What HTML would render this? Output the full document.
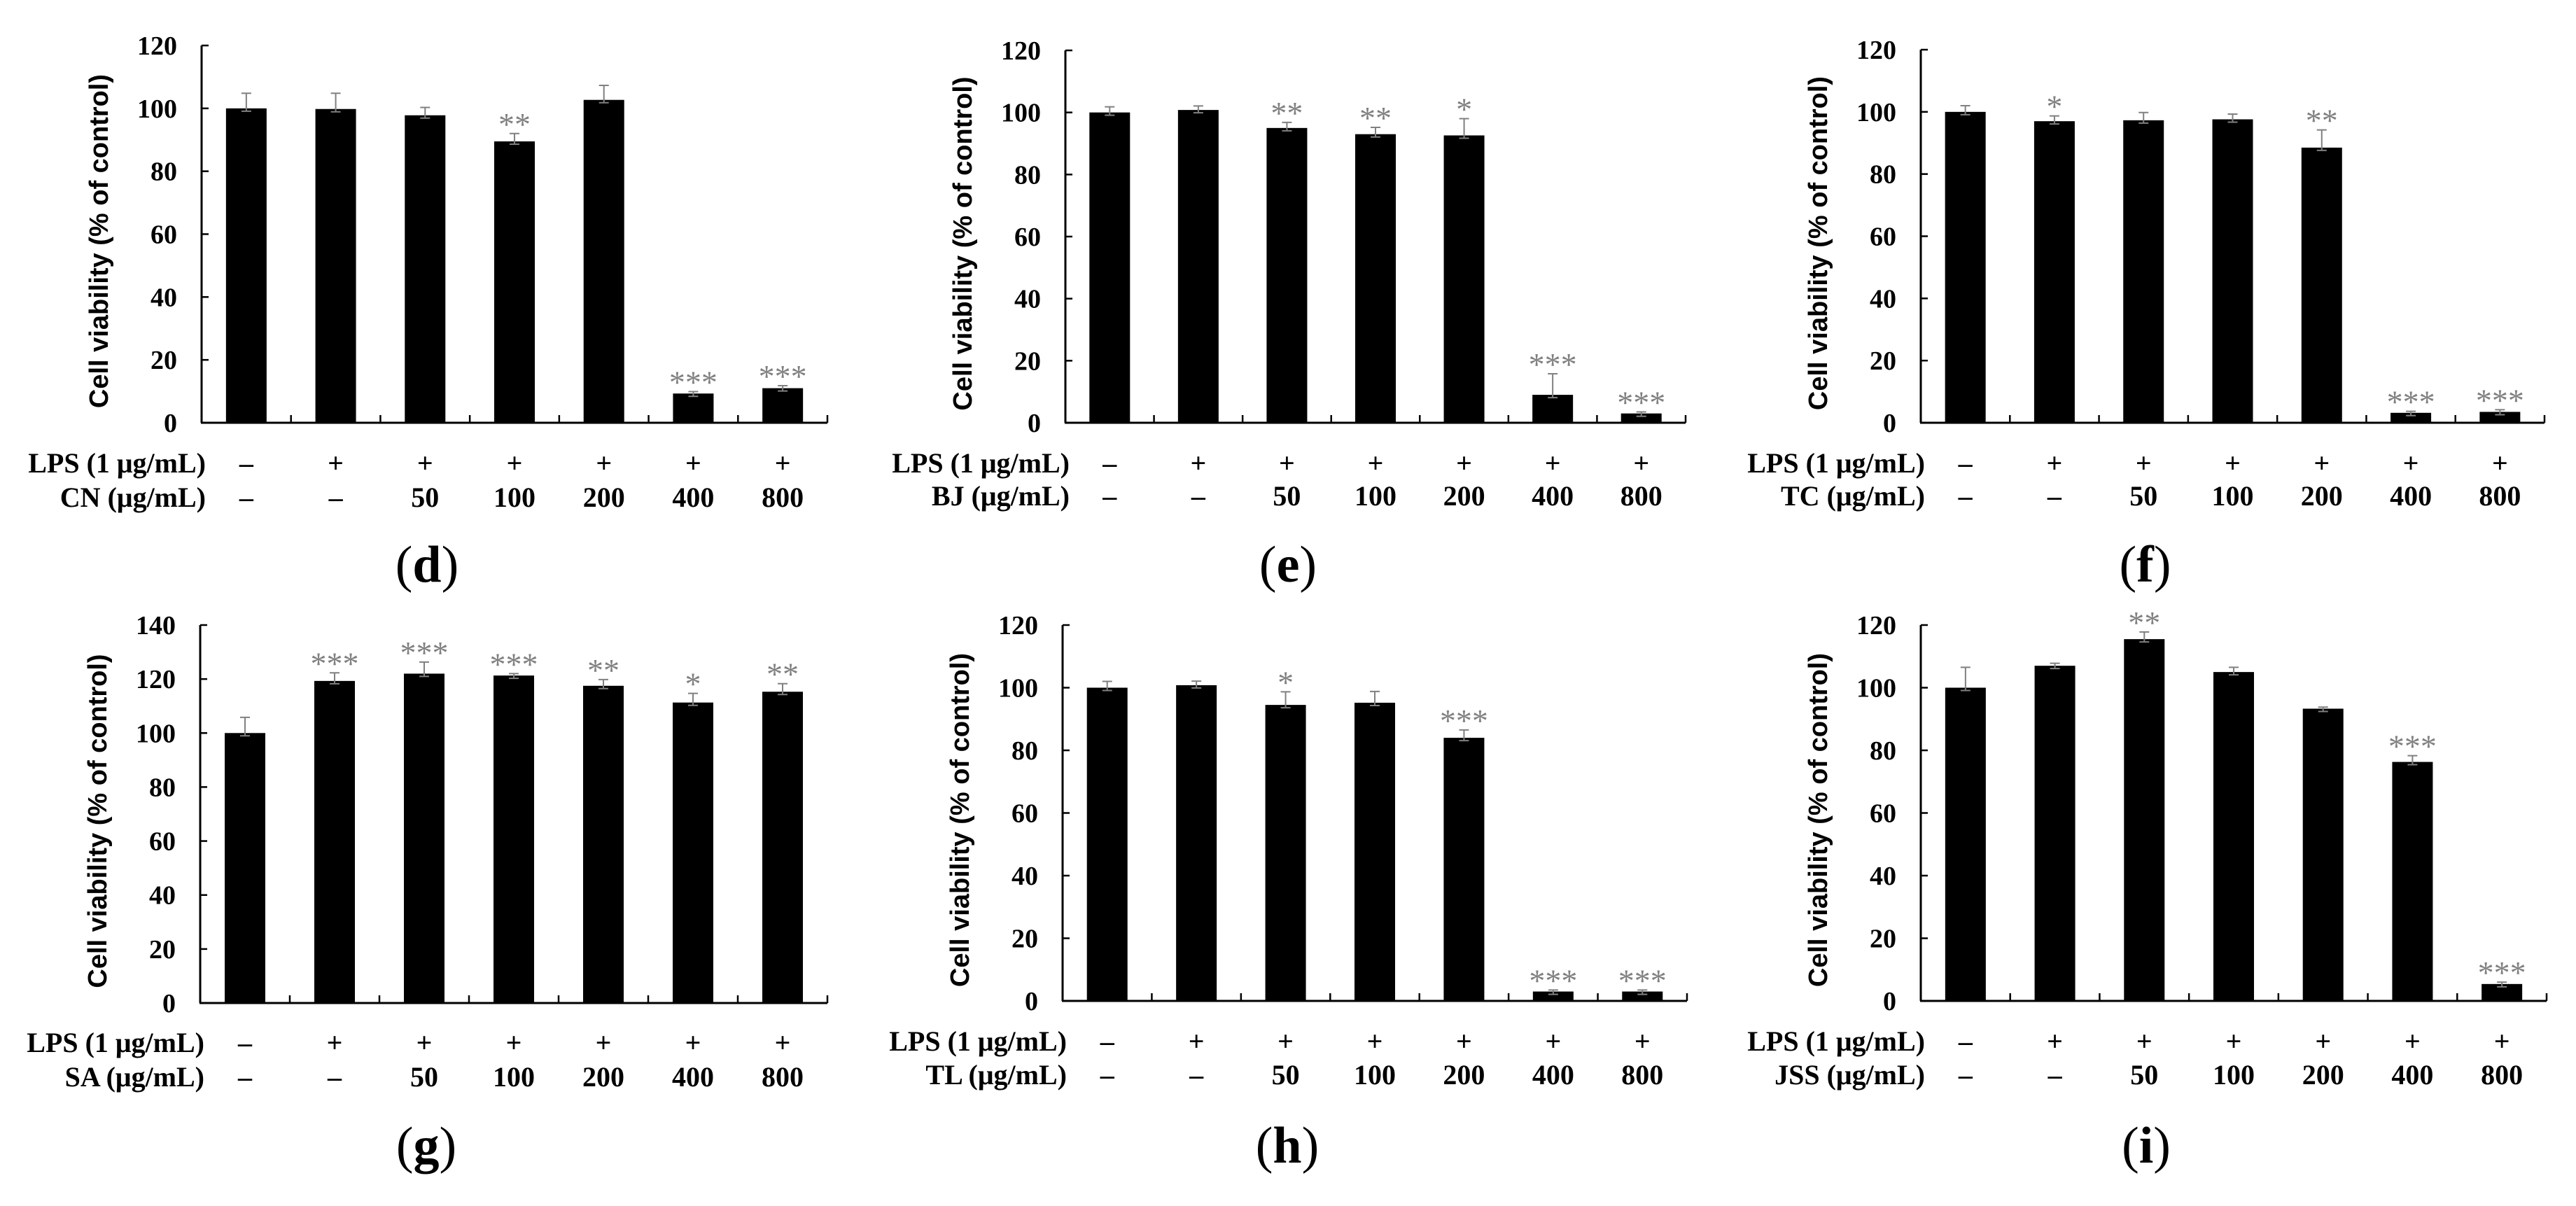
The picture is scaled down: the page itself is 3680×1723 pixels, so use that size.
<!DOCTYPE html>
<html><head><meta charset="utf-8"><style>
html,body{margin:0;padding:0;background:#fff;}
svg{display:block;}
</style></head><body>
<svg id="fig" xmlns="http://www.w3.org/2000/svg" width="3680" height="1723" viewBox="0 0 3680 1723"></svg>
<script>
const categories = ["ctrl","LPS","50","100","200","400","800"];
const lpsRow = ["–","+","+","+","+","+","+"];
const concRow = ["–","–","50","100","200","400","800"];
const panelIds = ["d","e","f","g","h","i"];
const extractNames = ["CN","BJ","TC","SA","TL","JSS"];
const valuesD = [100,99.8,97.8,89.5,102.7,9.3,11];
const errorsD = [4.8,5,2.5,2.5,4.6,0.6,0.8];
const starsD = ["","","","**","","***","***"];
const valuesE = [100,100.8,95,93,92.6,9,3];
const errorsE = [1.8,1.3,1.8,2.2,5.4,6.8,0.5];
const starsE = ["","","**","**","*","***","***"];
const valuesF = [100,97,97.3,97.6,88.5,3.2,3.5];
const errorsF = [2,1.7,2.5,1.7,5.7,0.5,0.7];
const starsF = ["","*","","","**","***","***"];
const valuesG = [100,119.3,122,121.3,117.5,111.3,115.3];
const errorsG = [5.8,3,4.3,0.7,2.3,3.4,3];
const starsG = ["","***","***","***","**","*","**"];
const valuesH = [100,100.8,94.5,95.2,84,3,3];
const errorsH = [2,1.3,4.2,3.6,2.5,0.5,0.5];
const starsH = ["","","*","","***","***","***"];
const valuesI = [100,107,115.5,105,93.3,76.3,5.4];
const errorsI = [6.5,0.8,2.3,1.5,0.5,2,0.6];
const starsI = ["","","**","","","***","***"];
const axisMax = [120,120,120,140,120,120];
const tickStep = 20;

const allValues=[valuesD,valuesE,valuesF,valuesG,valuesH,valuesI];
const allErrors=[errorsD,errorsE,errorsF,errorsG,errorsH,errorsI];
const allStars=[starsD,starsE,starsF,starsG,starsH,starsI];
// layout (not data)
const layout=[
 {x0:288,x1:1182,yTop:65,yZero:604,r1:675,r2:724,lab:831},
 {x0:1522,x1:2408,yTop:72,yZero:604,r1:675,r2:722,lab:831},
 {x0:2744,x1:3635,yTop:71,yZero:604,r1:675,r2:722,lab:831},
 {x0:286,x1:1182,yTop:893,yZero:1433,r1:1503,r2:1552,lab:1661},
 {x0:1518,x1:2410,yTop:893,yZero:1430,r1:1501,r2:1549,lab:1661},
 {x0:2744,x1:3638,yTop:893,yZero:1430,r1:1501,r2:1549,lab:1661}
];
const NS="http://www.w3.org/2000/svg";
const svg=document.getElementById('fig');
function mk(tag,attrs,parent,text){const e=document.createElementNS(NS,tag);for(const k in attrs)e.setAttribute(k,attrs[k]);if(text!==undefined)e.textContent=text;parent.appendChild(e);return e;}
const SERIF='"Liberation Serif", serif';
const SANS='"Liberation Sans", sans-serif';

panelIds.forEach((pid,p)=>{
  const L=layout[p];
  const g=mk('g',{},svg);
  
  
  const n=categories.length;
  const bandW=(L.x1-L.x0)/n;
  const barW=58;
  const xC=i=>L.x0+(i+0.5)*bandW;
  const yS=v=>L.yZero-(v/axisMax[p])*(L.yZero-L.yTop);
  // axes
  const ya=mk('line',{x1:L.x0,y1:L.yTop,x2:L.x0,y2:L.yZero,stroke:'#000','stroke-width':3},g);
  
  
  const xa=mk('line',{x1:L.x0-1,y1:L.yZero,x2:L.x1,y2:L.yZero,stroke:'#000','stroke-width':3},g);
  
  
  for(let v=0;v<=axisMax[p];v+=tickStep){
    const y=yS(v);
    mk('line',{x1:L.x0,y1:y,x2:L.x0+10,y2:y,stroke:'#000','stroke-width':2.5},g);
    const t=mk('text',{x:L.x0-35,y:y+13,'text-anchor':'end','font-family':SERIF,'font-weight':'bold','font-size':38},g,String(v));
    
    
  }
  for(let i=1;i<=n;i++){
    const x=L.x0+i*bandW;
    mk('line',{x1:x,y1:L.yZero,x2:x,y2:L.yZero-11,stroke:'#000','stroke-width':2.5},g);
  }
  // y title
  const cy=(L.yTop+L.yZero)/2+10, cx=L.x0-146;
  const yt=mk('text',{x:cx,y:cy,transform:`rotate(-90 ${cx} ${cy})`,'text-anchor':'middle','dominant-baseline':'central','font-family':SANS,'font-weight':'bold','font-size':38},g,'Cell viability (% of control)');
  
  
  // bars
  const vals=allValues[p], errs=allErrors[p], st=allStars[p];
  vals.forEach((v,i)=>{
    const x=xC(i), y=yS(v);
    const b=mk('rect',{x:x-barW/2,y:y,width:barW,height:L.yZero-y,fill:'#000'},g);
    
    
    const ye=yS(v+errs[i]);
    const el=mk('path',{d:`M${x} ${y+4}V${ye}M${x-7} ${ye}H${x+7}M${x-7} ${y+4}H${x+7}`,stroke:'#808080','stroke-width':2,fill:'none'},g);
    
    
    if(st[i]){
      const s=mk('text',{x:x,y:ye+2,'text-anchor':'middle','font-family':SERIF,'font-size':46,fill:'#808080'},g,st[i]);
      
      
    }
    const a=mk('text',{x:x,y:L.r1,'text-anchor':'middle','font-family':SERIF,'font-weight':'bold','font-size':40},g,lpsRow[i]);
    
    
    const c=mk('text',{x:x,y:L.r2,'text-anchor':'middle','font-family':SERIF,'font-weight':'bold','font-size':40},g,concRow[i]);
    
    
  });
  const r1=mk('text',{x:L.x0+6,y:L.r1,'text-anchor':'end','font-family':SERIF,'font-weight':'bold','font-size':40},g,'LPS (1 μg/mL)');
  
  
  const r2=mk('text',{x:L.x0+6,y:L.r2,'text-anchor':'end','font-family':SERIF,'font-weight':'bold','font-size':40},g,extractNames[p]+' (μg/mL)');
  
  
  const pl=mk('text',{x:(L.x0+L.x1)/2-125,y:L.lab,'text-anchor':'middle','font-family':SERIF,'font-size':74},g);
  
  
  mk('tspan',{},pl,'(');
  mk('tspan',{'font-weight':'bold'},pl,pid);
  mk('tspan',{},pl,')');
});
</script>
</body></html>
